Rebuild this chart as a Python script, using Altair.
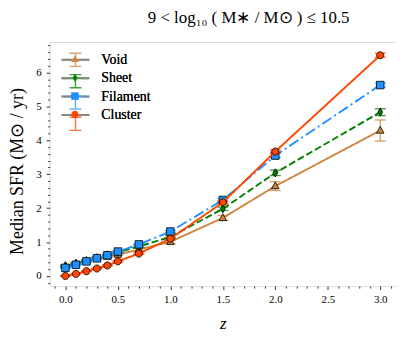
import altair as alt
import pandas as pd

z = [0.0, 0.1, 0.2, 0.3, 0.4, 0.5, 0.7, 1.0, 1.5, 2.0, 3.0]
series_names = ["Void", "Sheet", "Filament", "Cluster"]
void = [0.30, 0.37, 0.44, 0.51, 0.57, 0.63, 0.78, 1.01, 1.71, 2.65, 4.29]
void_err = [0.03, 0.03, 0.03, 0.03, 0.03, 0.03, 0.04, 0.06, 0.07, 0.13, 0.31]
sheet = [0.29, 0.37, 0.45, 0.54, 0.62, 0.70, 0.87, 1.15, 1.98, 3.04, 4.83]
sheet_err = [0.02, 0.02, 0.02, 0.02, 0.02, 0.03, 0.03, 0.04, 0.05, 0.08, 0.10]
filament = [0.24, 0.33, 0.43, 0.52, 0.61, 0.72, 0.93, 1.31, 2.24, 3.55, 5.63]
filament_err = [0.01, 0.01, 0.01, 0.01, 0.02, 0.02, 0.02, 0.03, 0.04, 0.06, 0.06]
cluster = [0.00, 0.06, 0.14, 0.22, 0.31, 0.43, 0.66, 1.10, 2.17, 3.67, 6.51]
cluster_err = [0.01, 0.01, 0.01, 0.01, 0.02, 0.02, 0.02, 0.03, 0.04, 0.05, 0.06]

colors = ["#CD853F", "#008000", "#1E90FF", "#FF4500"]
dashes = [[1, 0], [7, 3], [11, 3.5, 2, 3.5], [1, 0]]
# marker paths (drawn with symbol size 400 -> unit = 10 px)
tri = "M0,-0.42L0.38,0.27L-0.38,0.27Z"
thin_diamond = "M0,-0.41L0.24,0L0,0.41L-0.24,0Z"
square = "M-0.38,-0.38L0.38,-0.38L0.38,0.38L-0.38,0.38Z"
circle = "M0.36,0A0.36,0.36,0,1,1,-0.36,0A0.36,0.36,0,1,1,0.36,0Z"
shapes = [tri, thin_diamond, square, circle]
line_symbol = "M-1.4,0L1.4,0"
errbar_symbol = "M-0.6,-0.66L0.6,-0.66M0,-0.66L0,0.66M-0.6,0.66L0.6,0.66"

vals = [void, sheet, filament, cluster]
errs = [void_err, sheet_err, filament_err, cluster_err]
rows = []
for name, v, e in zip(series_names, vals, errs):
    for zi, vi, ei in zip(z, v, e):
        rows.append({"z": zi, "series": name, "series_m": name, "series_e": name,
                     "sfr": vi, "lo": vi - ei, "hi": vi + ei})
df = pd.DataFrame(rows)

FONT = "Liberation Serif"
xt = [round(-0.1 + 0.1 * i, 2) for i in range(33)]
yt = [round(-0.2 + 0.2 * i, 2) for i in range(36)]

x_major = "abs(datum.value*2 - round(datum.value*2)) < 0.000001"
y_major = "abs(datum.value - round(datum.value)) < 0.000001"

xaxis = alt.Axis(values=xt, grid=False, domain=False, title="z",
                 labelExpr=f"{x_major} ? format(datum.value, '.1f') : ''",
                 tickSize={"condition": {"test": x_major, "value": 3.5}, "value": 2},
                 tickColor="black", tickWidth=0.8, labelFont=FONT, labelFontSize=11,
                 labelColor="black", labelPadding=4, labelOverlap=False, labelFlush=False,
                 titleFont=FONT, titleFontSize=17, titleFontStyle="italic",
                 titleFontWeight="normal", titleColor="black", titleX=174.5, titleY=38,
                 titleBaseline="middle", titleAlign="center")
yaxis = alt.Axis(values=yt, grid=False, domain=False, title="Median SFR (M⊙ / yr)",
                 labelExpr=f"{y_major} ? format(datum.value, '.0f') : ''",
                 tickSize={"condition": {"test": y_major, "value": 3.5}, "value": 2},
                 tickColor="black", tickWidth=0.8, labelFont=FONT, labelFontSize=11,
                 labelColor="black", labelPadding=5, labelOverlap=False, labelFlush=False,
                 titleFont=FONT, titleFontSize=18, titleFontWeight="normal",
                 titleColor="black", titleX=-32, titleY=130, titleAngle=-90,
                 titleBaseline="middle", titleAlign="center")

xs = alt.Scale(domain=[-0.15, 3.15], nice=False, zero=False)
ys = alt.Scale(domain=[-0.30, 6.90], nice=False, zero=False)

LEG = dict(title=None, orient="none", legendX=15, legendY=7, symbolSize=400,
           labelFont=FONT, labelFontSize=14, labelColor="black", labelOffset=15,
           rowPadding=0.5, padding=0)
legA = alt.Legend(symbolType=line_symbol, symbolStrokeWidth=2, **LEG)
legB = alt.Legend(symbolStrokeColor="black", symbolStrokeWidth=0.8, symbolOpacity=1,
                  labelOpacity=0, **LEG)
legC = alt.Legend(symbolType=errbar_symbol, symbolStrokeWidth=1.4, symbolOpacity=0.75,
                  symbolFillColor="transparent", labelOpacity=0, **LEG)

base = alt.Chart(df)
X = alt.X("z:Q", scale=xs, axis=xaxis)

layers = []
# invisible layer carrying the error-bar legend
layers.append(base.mark_point(filled=False, opacity=0).encode(
    x=X, y=alt.Y("sfr:Q", scale=ys, axis=yaxis),
    stroke=alt.Stroke("series_e:N", sort="descending",
                      scale=alt.Scale(range=colors), legend=legC)))

for name in series_names:
    sub = base.transform_filter(alt.datum.series == name)
    layers.append(sub.mark_errorbar(
        ticks={"size": 11, "thickness": 1.4}, rule={"strokeWidth": 1.4}, opacity=0.75
    ).encode(
        x=X, y=alt.Y("lo:Q", scale=ys, axis=yaxis), y2="hi:Q",
        color=alt.Color("series:N", sort="descending",
                        scale=alt.Scale(range=colors), legend=legA)))
    layers.append(sub.mark_line(strokeWidth=1.9).encode(
        x=X, y=alt.Y("sfr:Q", scale=ys, axis=yaxis),
        color=alt.Color("series:N", sort="descending",
                        scale=alt.Scale(range=colors), legend=legA),
        strokeDash=alt.StrokeDash("series:N", sort="descending",
                                  scale=alt.Scale(range=dashes), legend=legA)))
    layers.append(sub.mark_point(filled=True, opacity=1, stroke="black",
                                 strokeWidth=0.8, size=400).encode(
        x=X, y=alt.Y("sfr:Q", scale=ys, axis=yaxis),
        fill=alt.Fill("series_m:N", sort="descending",
                      scale=alt.Scale(range=colors), legend=legB),
        shape=alt.Shape("series_m:N", sort="descending",
                        scale=alt.Scale(range=shapes), legend=legB)))

chart = alt.layer(*layers).properties(
    width=349, height=246,
    autosize=alt.AutoSizeParams(type="none"),
    padding={"left": 42, "top": 33, "right": 0, "bottom": 48},
    title=alt.TitleParams("9 < log₁₀ ( M∗ / M⊙ ) ≤ 10.5", font=FONT, fontSize=17,
                          fontWeight="normal", color="black", anchor="middle",
                          offset=13, dx=26),
).configure_view(stroke="black", strokeWidth=1).configure(background="white")

chart.save("out.html", embed_options={"renderer": "svg", "actions": False})
